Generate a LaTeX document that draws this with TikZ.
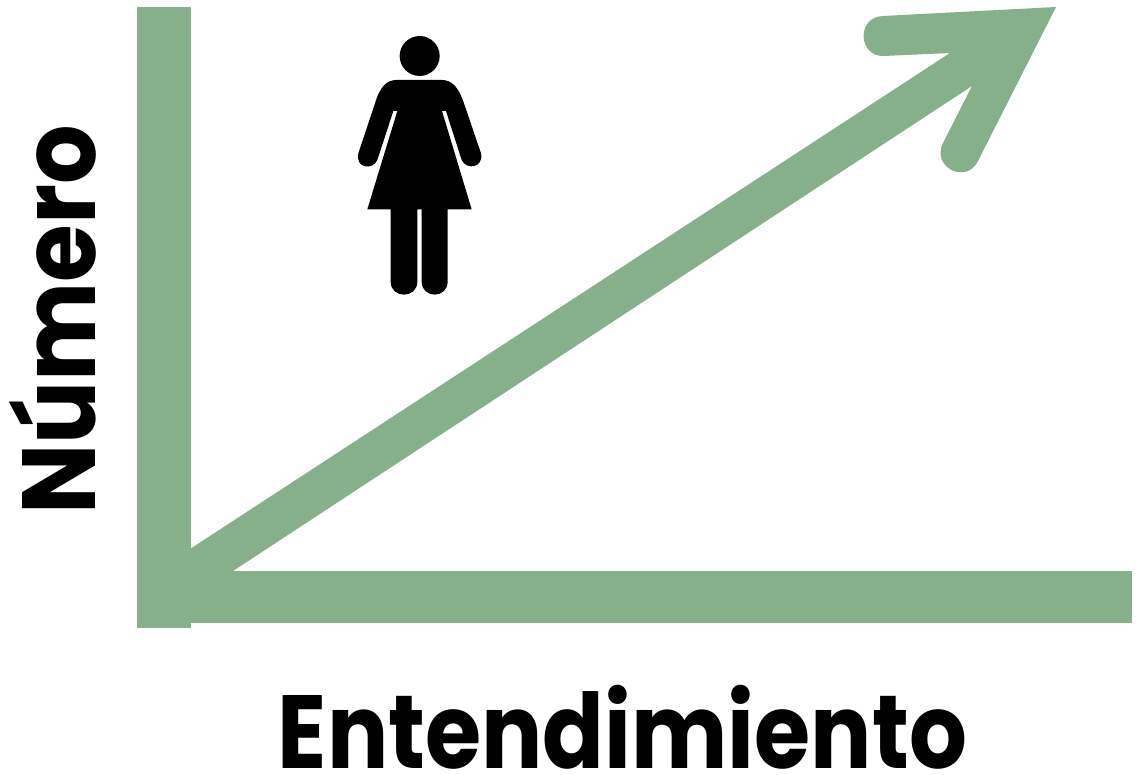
\documentclass[tikz,border=0pt]{standalone}
\usepackage{fontspec}
\setmainfont{Poppins}[BoldFont={Poppins Bold}]
\definecolor{sage}{HTML}{85B08A}
\tikzset{
  green shape/.style={fill=sage,draw=none},
  label text/.style={font=\fontsize{104}{104}\selectfont\bfseries,inner sep=0pt,text=black,text depth=0pt},
}
\begin{document}
\begin{tikzpicture}[x=1pt,y=-1pt]
\useasboundingbox (0,0) rectangle (1138,775);
\fill[white] (0,0) rectangle (1138,775);
% axes
\path[green shape] (137,7) rectangle (191,628);
\path[green shape] (137,571) rectangle (1132,623);
% rising arrow
\path[green shape] (170,600) -- (233,571) -- (972,86) -- (943,143)
  .. controls (931,167) and (966,185) .. (978,161)
  -- (1056,7) -- (883,16)
  .. controls (856,17) and (858,57) .. (884,56)
  -- (950,53) -- (190,549) -- cycle;
% figure
\begin{scope}[shift={(340,25)},x=0.3333pt,y=-0.3333pt]
\fill[black] (239,93) circle[radius=60];
\fill[black] (318,258) -- (365,405)
  .. controls (380,437) and (432,428) .. (423,385)
  -- (372,235) .. controls (355,185) and (335,165) .. (305,165)
  -- (170,165) .. controls (140,165) and (120,185) .. (105,235)
  -- (55,385) .. controls (45,430) and (98,437) .. (112,405)
  -- (160,258) -- (172,258) -- (82,553) -- (152,553) -- (152,770)
  .. controls (152,822) and (232,822) .. (232,770)
  -- (232,553) -- (245,553) -- (245,770)
  .. controls (245,822) and (323,822) .. (323,770)
  -- (323,553) -- (395,553) -- (306,258) -- cycle;
\end{scope}
% labels
\node[label text,anchor=base] (xlabel) at (622.5,768) {\scalebox{0.875}[1]{Entendimiento}};
\node[label text,anchor=base,rotate=90] (ylabel) at (95,320) {\scalebox{0.90}[1]{Número}};
\end{tikzpicture}
\end{document}
